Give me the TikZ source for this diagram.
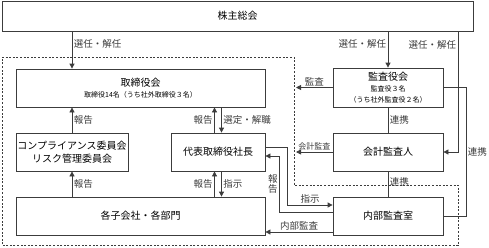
\documentclass[tikz,border=0pt]{standalone}
\usepackage{fontspec}
\setmainfont{Noto Sans CJK JP}
\usetikzlibrary{positioning, arrows.meta}
\definecolor{LineGray}{RGB}{60, 60, 60}

\begin{document}
\begin{tikzpicture}[
        x=1pt, y=-1pt,
        box/.style={
            rectangle,
            draw=LineGray,
            line width=0.8pt,
            align=center,
            inner sep=0pt,
            minimum height=38pt,
            font=\fontsize{10}{12.5}\selectfont
        },
        arrow/.style={-{Triangle[length=5pt, width=5pt]}, line width=0.8pt, LineGray},
        link/.style={line width=0.8pt, LineGray},
        grp/.style={line width=0.8pt, LineGray, dash pattern=on 2pt off 1.6pt},
        lbl/.style={font=\fontsize{9.5}{10.5}\selectfont, inner sep=1.5pt},
        sub/.style={font=\fontsize{7}{9}\selectfont}
    ]
    \useasboundingbox (0,0) rectangle (489,247);

    % 点線の枠
    \draw[grp] (2,57) -- (294,57) -- (294,185) -- (458,185) -- (458,245.5) -- (2,245.5) -- cycle;

    % 株主総会
    \node[box, minimum width=471pt, minimum height=30pt] (soukai) at (237.5,16) {株主総会};

    % 左側
    \node[box, minimum width=249pt] (torishimari) at (140.5,88) {取締役会\\[-1pt]{\fontsize{7}{9}\selectfont 取締役14名（うち社外取締役３名）}};
    \node[box, minimum width=112pt] (comp) at (72,152) {コンプライアンス委員会\\リスク管理委員会};
    \node[box, minimum width=94pt] (daihyo) at (218,152) {代表取締役社長};
    \node[box, minimum width=249pt] (kaku) at (140.5,216) {各子会社・各部門};

    % 右側
    \node[box, minimum width=110pt, minimum height=39pt] (kansayaku) at (388,87.5) {監査役会\\[-2pt]{\fontsize{7}{9}\selectfont 監査役３名}\\[-1.5pt]{\fontsize{7}{9}\selectfont （うち社外監査役２名）}};
    \node[box, minimum width=110pt] (kaikei) at (388,152) {会計監査人};
    \node[box, minimum width=110pt] (naibu) at (388,216) {内部監査室};

    \coordinate (border) at (296,0);
    \coordinate (selR) at (458,152);
    \coordinate (renR) at (466,0);
    \coordinate (naibuLow) at ([yshift=-16pt]naibu.west);

    % 矢印
    \draw[arrow] (soukai.south -| comp) -- node[lbl, right, pos=0.34]{選任・解任} (torishimari.north -| comp);
    \draw[arrow] (soukai.south -| kansayaku) -- node[lbl, left, pos=0.35]{選任・解任} (kansayaku.north);
    \draw[arrow] (soukai.south -| selR) -- node[lbl, left, pos=0.11]{選任・解任} (selR) -- (kaikei.east);
    \draw[arrow] (kansayaku.west) -- node[lbl, above]{監査} (kansayaku.west -| border);
    \draw[arrow] (kaikei.west) -- node[lbl, above, font=\fontsize{8}{9}\selectfont]{会計監査} (kaikei.west -| border);

    \draw[arrow] (comp.north) -- node[lbl, right]{報告} (comp.north |- torishimari.south);
    \draw[arrow] (kaku.north -| comp) -- node[lbl, right]{報告} (comp.south);
    \draw[arrow] ([xshift=-3.5pt]daihyo.north) -- node[lbl, left]{報告} ([xshift=-3.5pt]daihyo.north |- torishimari.south);
    \draw[arrow] ([xshift=3.5pt]daihyo.north |- torishimari.south) -- node[lbl, right]{選定・解職} ([xshift=3.5pt]daihyo.north);
    \draw[arrow] ([xshift=-3.5pt]daihyo.south |- kaku.north) -- node[lbl, left]{報告} ([xshift=-3.5pt]daihyo.south);
    \draw[arrow] ([xshift=3.5pt]daihyo.south) -- node[lbl, right]{指示} ([xshift=3.5pt]daihyo.south |- kaku.north);

    \draw[arrow] ([yshift=5pt]daihyo.east) -- ++(22,0) |- node[lbl, above, pos=0.75]{指示} ([yshift=11pt]naibu.west);
    \draw[arrow] ([yshift=4pt]naibu.west) -- ++(-53,0) |- node[lbl, left, pos=0.25, align=center, font=\fontsize{9.5}{10}\selectfont]{報\\告} ([yshift=-4pt]daihyo.east);
    \draw[arrow] (naibuLow) -- node[lbl, above]{内部監査} (naibuLow -| kaku.east);

    % 連携
    \draw[link] (kansayaku.south) -- node[lbl, right]{連携} (kaikei.north);
    \draw[link] (kaikei.south) -- node[lbl, right, pos=0.4]{連携} (naibu.north);
    \draw[link] (kansayaku.east) -- (kansayaku.east -| renR) |- node[lbl, right, pos=0.25]{連携} (naibu.east);

    \end{tikzpicture}
\end{document}
